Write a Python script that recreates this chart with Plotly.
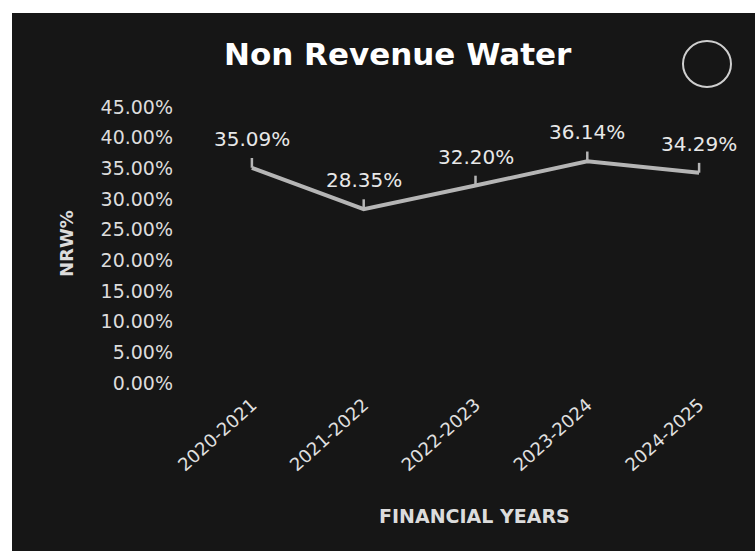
import plotly.graph_objects as go

# Non revenue water share by financial year
years = ["2020-2021", "2021-2022", "2022-2023", "2023-2024", "2024-2025"]
nrw = [0.3509, 0.2835, 0.3220, 0.3614, 0.3429]
y_ticks = [0.00, 0.05, 0.10, 0.15, 0.20, 0.25, 0.30, 0.35, 0.40, 0.45]

W, H = 755, 551
M_L, M_R, M_T, M_B = 196, 0, 107, 168
PW, PH = W - M_L - M_R, H - M_T - M_B

BG = "#161616"
LINE = "#b5b5b5"
TXT = "#dcdcdc"
FONT = "DejaVu Sans"


def px_x(px):
    """Pixel column -> paper x."""
    return (px - M_L) / PW


def px_y(py):
    """Pixel row (from top) -> paper y."""
    return (H - M_B - py) / PH


fig = go.Figure()

fig.add_trace(go.Scatter(
    x=years,
    y=nrw,
    mode="lines",
    line=dict(color=LINE, width=4),
    error_y=dict(type="constant", value=0.016, valueminus=0, symmetric=False,
                 width=0, thickness=2.5, color=LINE),
    hoverinfo="skip",
    showlegend=False,
))

annotations = []
for yr, v in zip(years, nrw):
    annotations.append(dict(
        x=yr, y=v, xref="x", yref="y", text=f"{v:.2%}", showarrow=False,
        yshift=29, font=dict(family=FONT, size=20, color="#e8e8e8"),
    ))

annotations += [
    dict(x=px_x(398), y=px_y(54), xref="paper", yref="paper",
         text="<b>Non Revenue Water</b>", showarrow=False,
         xanchor="center", yanchor="middle",
         font=dict(family=FONT, size=31, color="#ffffff")),
    dict(x=px_x(66), y=px_y(244), xref="paper", yref="paper",
         text="<b>NRW%</b>", showarrow=False, textangle=-90,
         xanchor="center", yanchor="middle",
         font=dict(family=FONT, size=18, color=TXT)),
    dict(x=px_x(474), y=px_y(516), xref="paper", yref="paper",
         text="<b>FINANCIAL YEARS</b>", showarrow=False,
         xanchor="center", yanchor="middle",
         font=dict(family=FONT, size=19, color=TXT)),
]

shapes = [
    # white edge along the top and the left side
    dict(type="rect", xref="paper", yref="paper", layer="above",
         x0=px_x(0), x1=px_x(W), y0=px_y(13), y1=px_y(0),
         fillcolor="#ffffff", line=dict(width=0)),
    dict(type="rect", xref="paper", yref="paper", layer="above",
         x0=px_x(0), x1=px_x(12), y0=px_y(H), y1=px_y(0),
         fillcolor="#ffffff", line=dict(width=0)),
    # ring in the upper right corner
    dict(type="circle", xref="paper", yref="paper",
         x0=px_x(683), x1=px_x(731), y0=px_y(87), y1=px_y(41),
         line=dict(color="#cfcfcf", width=2), fillcolor="rgba(0,0,0,0)"),
]

fig.update_layout(
    width=W, height=H,
    margin=dict(l=M_L, r=M_R, t=M_T, b=M_B, pad=0),
    paper_bgcolor=BG, plot_bgcolor=BG,
    font=dict(family=FONT, color=TXT),
    annotations=annotations,
    shapes=shapes,
    xaxis=dict(
        type="category", range=[-0.5, len(years) - 0.5],
        showgrid=False, zeroline=False, showline=False, ticks="",
        tickangle=-42, ticklabelstandoff=7,
        tickfont=dict(family=FONT, size=18, color="#e0e0e0"),
        fixedrange=True,
    ),
    yaxis=dict(
        range=[0, 0.45], tickvals=y_ticks, tickformat=".2%",
        showgrid=False, zeroline=False, showline=False, ticks="",
        ticklabelstandoff=22,
        tickfont=dict(family=FONT, size=19, color=TXT),
        fixedrange=True,
    ),
)

fig.write_html("out.html", config={"displayModeBar": False})
